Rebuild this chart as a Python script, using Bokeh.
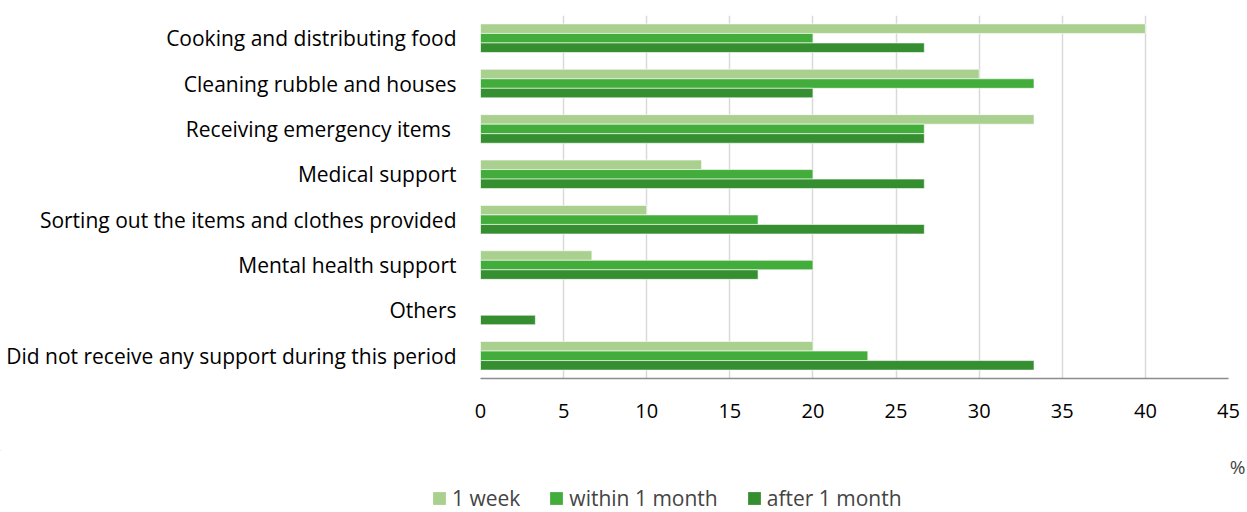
from bokeh.plotting import figure
from bokeh.layouts import column, row
from bokeh.models import FactorRange, Range1d, Legend, LegendItem, Label, FixedTicker
from bokeh.transform import dodge
from bokeh.embed import file_html
from bokeh.resources import INLINE
from bokeh.models import ColumnDataSource

categories = [
    "Cooking and distributing food",
    "Cleaning rubble and houses",
    "Receiving emergency items ",
    "Medical support",
    "Sorting out the items and clothes provided",
    "Mental health support",
    "Others",
    "Did not receive any support during this period",
]
week1 = [40, 30, 33.3, 13.3, 10, 6.7, 0, 20]
within_month = [20, 33.3, 26.7, 20, 16.7, 20, 0, 23.3]
after_month = [26.7, 20, 26.7, 26.7, 26.7, 16.7, 3.3, 33.3]
series_names = ["1 week", "within 1 month", "after 1 month"]
colors = ["#a9d08e", "#43ad3b", "#358e30"]
x_ticks = [0, 5, 10, 15, 20, 25, 30, 35, 40, 45]

FONT = "Open Sans"

src = ColumnDataSource(dict(cat=categories, w=week1, m=within_month, a=after_month))

p = figure(width=1247, height=450, output_backend="svg", toolbar_location=None,
           y_range=FactorRange(*list(reversed(categories))), x_range=Range1d(0, 45),
           min_border_left=480, min_border_right=19, min_border_top=15, min_border_bottom=72)
p.outline_line_color = None

renderers = []
for col, off, color in zip(["w", "m", "a"], [0.21, 0.0, -0.21], colors):
    r = p.hbar(y=dodge("cat", off, range=p.y_range), right=col, left=0, height=0.21,
               source=src, fill_color=color, line_color="white", line_width=0.6)
    renderers.append(r)

p.xaxis.ticker = FixedTicker(ticks=x_ticks)
p.xaxis.major_label_text_font = FONT
p.xaxis.major_label_text_font_size = "20px"
p.xaxis.major_label_text_color = "#000000"
p.xaxis.major_label_standoff = 19
p.xaxis.axis_line_color = "#8c8c8c"
p.xaxis.axis_line_width = 1.5
p.xaxis.major_tick_line_color = None
p.xaxis.minor_tick_line_color = None

p.yaxis.major_label_text_font = FONT
p.yaxis.major_label_text_font_size = "21px"
p.yaxis.major_label_text_color = "#000000"
p.yaxis.major_label_standoff = 18
p.yaxis.axis_line_color = None
p.yaxis.major_tick_line_color = None
p.yaxis.minor_tick_line_color = None

p.ygrid.grid_line_color = None
p.xgrid.grid_line_color = "#d9d9d9"
p.xgrid.grid_line_width = 1.5

# legend strip with the unit label
lg = figure(width=1247, height=62, output_backend="svg", toolbar_location=None,
            x_range=Range1d(0, 1247), y_range=Range1d(62, 0),
            min_border_left=0, min_border_right=0, min_border_top=0, min_border_bottom=0)
lg.axis.visible = False
lg.grid.visible = False
lg.outline_line_color = None
dummies = []
for color in colors:
    dummies.append(lg.hbar(y=[-100], right=[-100], left=[-100], height=0.1,
                           fill_color=color, line_color=None))
legend = Legend(items=[LegendItem(label=n, renderers=[r]) for n, r in zip(series_names, dummies)],
                orientation="horizontal", location=(431, 0),
                label_text_font=FONT, label_text_font_size="21px",
                glyph_width=16, glyph_height=16, label_standoff=5, spacing=28,
                padding=0, margin=0, border_line_color=None, background_fill_alpha=0)
lg.add_layout(legend, "center")
lg.add_layout(Label(x=1237, y=16, text="%", text_font=FONT, text_font_size="19px",
                    text_align="center", text_baseline="middle"))

layout = column(p, row(lg), spacing=0)
open("out.html", "w").write(file_html(layout, INLINE))
